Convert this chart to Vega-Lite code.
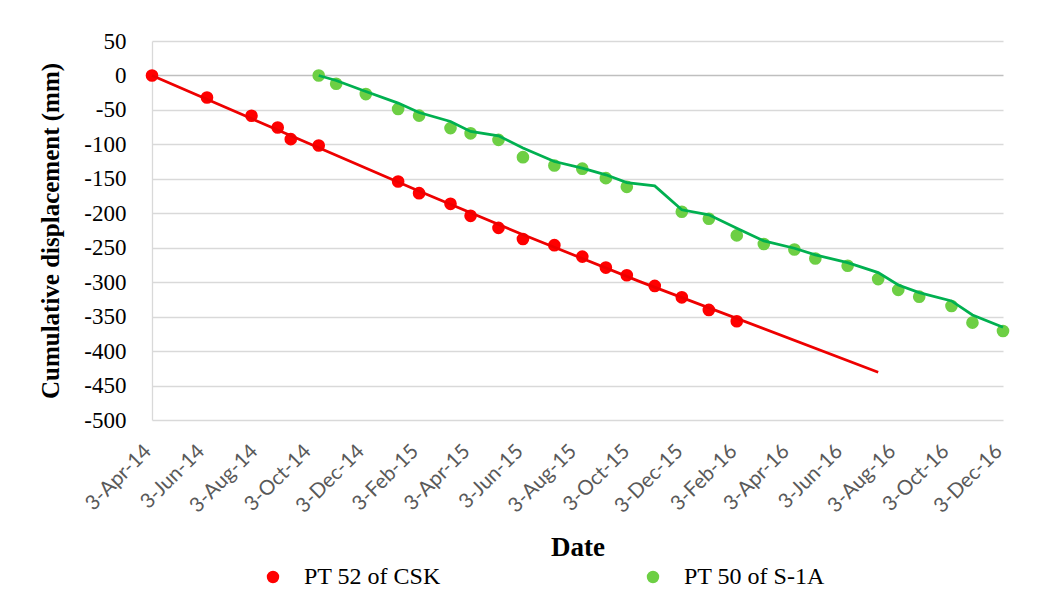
{
  "$schema": "https://vega.github.io/schema/vega-lite/v6.json",
  "autosize": "none",
  "width": 851,
  "height": 379,
  "padding": {"left": 152, "top": 41, "right": 38, "bottom": 179},
  "background": "white",
  "config": {
    "view": {"stroke": null},
    "font": "Liberation Serif"
  },
  "datasets": {
    "pts": [
      {"date": "2014-04-03", "disp": 0, "series": "PT 52 of CSK"},
      {"date": "2014-06-05", "disp": -32, "series": "PT 52 of CSK"},
      {"date": "2014-07-26", "disp": -58.5, "series": "PT 52 of CSK"},
      {"date": "2014-08-25", "disp": -75.5, "series": "PT 52 of CSK"},
      {"date": "2014-09-09", "disp": -92.4, "series": "PT 52 of CSK"},
      {"date": "2014-10-11", "disp": -101.7, "series": "PT 52 of CSK"},
      {"date": "2015-01-10", "disp": -153.9, "series": "PT 52 of CSK"},
      {"date": "2015-02-03", "disp": -170.8, "series": "PT 52 of CSK"},
      {"date": "2015-03-11", "disp": -186.3, "series": "PT 52 of CSK"},
      {"date": "2015-04-03", "disp": -203.7, "series": "PT 52 of CSK"},
      {"date": "2015-05-05", "disp": -221.2, "series": "PT 52 of CSK"},
      {"date": "2015-06-02", "disp": -237.3, "series": "PT 52 of CSK"},
      {"date": "2015-07-08", "disp": -246.3, "series": "PT 52 of CSK"},
      {"date": "2015-08-09", "disp": -262.9, "series": "PT 52 of CSK"},
      {"date": "2015-09-05", "disp": -278.8, "series": "PT 52 of CSK"},
      {"date": "2015-09-29", "disp": -289.9, "series": "PT 52 of CSK"},
      {"date": "2015-10-31", "disp": -305.4, "series": "PT 52 of CSK"},
      {"date": "2015-12-01", "disp": -322, "series": "PT 52 of CSK"},
      {"date": "2016-01-01", "disp": -340.3, "series": "PT 52 of CSK"},
      {"date": "2016-02-02", "disp": -356.7, "series": "PT 52 of CSK"},
      {"date": "2014-10-11", "disp": 0, "series": "PT 50 of S-1A"},
      {"date": "2014-10-31", "disp": -12.1, "series": "PT 50 of S-1A"},
      {"date": "2014-12-04", "disp": -27, "series": "PT 50 of S-1A"},
      {"date": "2015-01-10", "disp": -48.6, "series": "PT 50 of S-1A"},
      {"date": "2015-02-03", "disp": -58.3, "series": "PT 50 of S-1A"},
      {"date": "2015-03-11", "disp": -76.4, "series": "PT 50 of S-1A"},
      {"date": "2015-04-03", "disp": -84, "series": "PT 50 of S-1A"},
      {"date": "2015-05-05", "disp": -93.5, "series": "PT 50 of S-1A"},
      {"date": "2015-06-02", "disp": -118.6, "series": "PT 50 of S-1A"},
      {"date": "2015-07-08", "disp": -130.7, "series": "PT 50 of S-1A"},
      {"date": "2015-08-09", "disp": -135.3, "series": "PT 50 of S-1A"},
      {"date": "2015-09-05", "disp": -149, "series": "PT 50 of S-1A"},
      {"date": "2015-09-29", "disp": -161.6, "series": "PT 50 of S-1A"},
      {"date": "2015-12-01", "disp": -197.8, "series": "PT 50 of S-1A"},
      {"date": "2016-01-01", "disp": -208, "series": "PT 50 of S-1A"},
      {"date": "2016-02-02", "disp": -232.1, "series": "PT 50 of S-1A"},
      {"date": "2016-03-04", "disp": -244.6, "series": "PT 50 of S-1A"},
      {"date": "2016-04-08", "disp": -252.6, "series": "PT 50 of S-1A"},
      {"date": "2016-05-02", "disp": -265.7, "series": "PT 50 of S-1A"},
      {"date": "2016-06-08", "disp": -276.2, "series": "PT 50 of S-1A"},
      {"date": "2016-07-13", "disp": -295.5, "series": "PT 50 of S-1A"},
      {"date": "2016-08-05", "disp": -311.2, "series": "PT 50 of S-1A"},
      {"date": "2016-08-29", "disp": -321, "series": "PT 50 of S-1A"},
      {"date": "2016-10-05", "disp": -334.5, "series": "PT 50 of S-1A"},
      {"date": "2016-10-29", "disp": -358.7, "series": "PT 50 of S-1A"},
      {"date": "2016-12-03", "disp": -370.8, "series": "PT 50 of S-1A"}
    ],
    "lines": [
      {"date": "2014-04-03", "disp": 0, "series": "PT 52 of CSK"},
      {"date": "2015-02-04", "disp": -168.5, "series": "PT 52 of CSK"},
      {"date": "2015-05-29", "disp": -228.9, "series": "PT 52 of CSK"},
      {"date": "2015-10-14", "disp": -299.2, "series": "PT 52 of CSK"},
      {"date": "2016-07-13", "disp": -430.7, "series": "PT 52 of CSK"},
      {"date": "2014-10-11", "disp": 0, "series": "PT 50 of S-1A"},
      {"date": "2014-10-31", "disp": -7.3, "series": "PT 50 of S-1A"},
      {"date": "2014-12-04", "disp": -23.2, "series": "PT 50 of S-1A"},
      {"date": "2015-01-10", "disp": -40.1, "series": "PT 50 of S-1A"},
      {"date": "2015-02-03", "disp": -53.7, "series": "PT 50 of S-1A"},
      {"date": "2015-03-11", "disp": -66.8, "series": "PT 50 of S-1A"},
      {"date": "2015-04-03", "disp": -81.3, "series": "PT 50 of S-1A"},
      {"date": "2015-05-05", "disp": -87.6, "series": "PT 50 of S-1A"},
      {"date": "2015-06-02", "disp": -105.4, "series": "PT 50 of S-1A"},
      {"date": "2015-07-08", "disp": -124.9, "series": "PT 50 of S-1A"},
      {"date": "2015-08-09", "disp": -134.5, "series": "PT 50 of S-1A"},
      {"date": "2015-09-05", "disp": -144.2, "series": "PT 50 of S-1A"},
      {"date": "2015-09-29", "disp": -155.4, "series": "PT 50 of S-1A"},
      {"date": "2015-10-31", "disp": -160.2, "series": "PT 50 of S-1A"},
      {"date": "2015-12-01", "disp": -195, "series": "PT 50 of S-1A"},
      {"date": "2016-01-01", "disp": -202.3, "series": "PT 50 of S-1A"},
      {"date": "2016-02-02", "disp": -221.6, "series": "PT 50 of S-1A"},
      {"date": "2016-03-04", "disp": -240, "series": "PT 50 of S-1A"},
      {"date": "2016-04-08", "disp": -250.7, "series": "PT 50 of S-1A"},
      {"date": "2016-05-02", "disp": -260.4, "series": "PT 50 of S-1A"},
      {"date": "2016-06-08", "disp": -271.6, "series": "PT 50 of S-1A"},
      {"date": "2016-07-13", "disp": -286.1, "series": "PT 50 of S-1A"},
      {"date": "2016-08-05", "disp": -304, "series": "PT 50 of S-1A"},
      {"date": "2016-08-29", "disp": -315.1, "series": "PT 50 of S-1A"},
      {"date": "2016-10-05", "disp": -327.2, "series": "PT 50 of S-1A"},
      {"date": "2016-10-29", "disp": -347.5, "series": "PT 50 of S-1A"},
      {"date": "2016-12-03", "disp": -365.4, "series": "PT 50 of S-1A"}
    ]
  },
  "encoding": {
    "x": {
      "field": "date",
      "type": "temporal",
      "scale": {
        "type": "utc",
        "domain": [
          {"year": 2014, "month": 4, "date": 3, "utc": true},
          {"year": 2016, "month": 12, "date": 3, "utc": true}
        ]
      },
      "axis": {
        "title": "Date",
        "labelExpr": "utcFormat(datum.value, '%-d-%b-%y')",
        "values": [
          {"year": 2014, "month": 4, "date": 3, "utc": true},
          {"year": 2014, "month": 6, "date": 3, "utc": true},
          {"year": 2014, "month": 8, "date": 3, "utc": true},
          {"year": 2014, "month": 10, "date": 3, "utc": true},
          {"year": 2014, "month": 12, "date": 3, "utc": true},
          {"year": 2015, "month": 2, "date": 3, "utc": true},
          {"year": 2015, "month": 4, "date": 3, "utc": true},
          {"year": 2015, "month": 6, "date": 3, "utc": true},
          {"year": 2015, "month": 8, "date": 3, "utc": true},
          {"year": 2015, "month": 10, "date": 3, "utc": true},
          {"year": 2015, "month": 12, "date": 3, "utc": true},
          {"year": 2016, "month": 2, "date": 3, "utc": true},
          {"year": 2016, "month": 4, "date": 3, "utc": true},
          {"year": 2016, "month": 6, "date": 3, "utc": true},
          {"year": 2016, "month": 8, "date": 3, "utc": true},
          {"year": 2016, "month": 10, "date": 3, "utc": true},
          {"year": 2016, "month": 12, "date": 3, "utc": true}
        ],
        "labelAngle": -45,
        "labelAlign": "right",
        "labelBaseline": "alphabetic",
        "labelFont": "Lato",
        "labelFontSize": 20.5,
        "labelColor": "#595959",
        "labelPadding": 32,
        "labelOverlap": false,
        "labelFlush": false,
        "domain": false,
        "ticks": false,
        "grid": false,
        "titleFont": "Liberation Serif",
        "titleFontSize": 27,
        "titleFontWeight": "bold",
        "titleColor": "black",
        "titlePadding": 18
      }
    },
    "y": {
      "field": "disp",
      "type": "quantitative",
      "scale": {"domain": [-500, 50], "nice": false, "zero": false},
      "axis": {
        "title": "Cumulative displacement (mm)",
        "values": [-500, -450, -400, -350, -300, -250, -200, -150, -100, -50, 0, 50],
        "labelExpr": "'' + datum.value",
        "labelFont": "Liberation Serif",
        "labelFontSize": 23,
        "labelColor": "black",
        "labelPadding": 26,
        "domain": true,
        "domainColor": "#d9d9d9",
        "domainWidth": 1.3,
        "ticks": false,
        "grid": true,
        "gridColor": {"condition": {"test": "datum.value === 0", "value": "#bfbfbf"}, "value": "#d9d9d9"},
        "gridWidth": 1.3,
        "titleFont": "Liberation Serif",
        "titleFontSize": 25,
        "titleFontWeight": "bold",
        "titleColor": "black",
        "titlePadding": 20
      }
    }
  },
  "layer": [
    {
      "data": {"name": "pts"},
      "mark": {"type": "circle", "size": 160, "opacity": 1},
      "encoding": {
        "color": {
          "field": "series",
          "type": "nominal",
          "scale": {"domain": ["PT 52 of CSK", "PT 50 of S-1A"], "range": ["#FF0000", "#6DCF44"]},
          "legend": {
            "title": null,
            "orient": "none",
            "legendX": 109,
            "legendY": 524,
            "direction": "horizontal",
            "columnPadding": 200,
            "symbolType": "circle",
            "symbolSize": 154,
            "symbolStrokeWidth": 0,
            "symbolOpacity": 1,
            "labelFont": "Liberation Serif",
            "labelFontSize": 24,
            "labelColor": "black",
            "labelOffset": 19,
            "padding": 0
          }
        }
      }
    },
    {
      "data": {"name": "lines"},
      "mark": {"type": "line", "strokeWidth": 2.75},
      "encoding": {
        "stroke": {
          "field": "series",
          "type": "nominal",
          "scale": {"domain": ["PT 52 of CSK", "PT 50 of S-1A"], "range": ["#EE0000", "#00B050"]},
          "legend": null
        }
      }
    }
  ]
}
